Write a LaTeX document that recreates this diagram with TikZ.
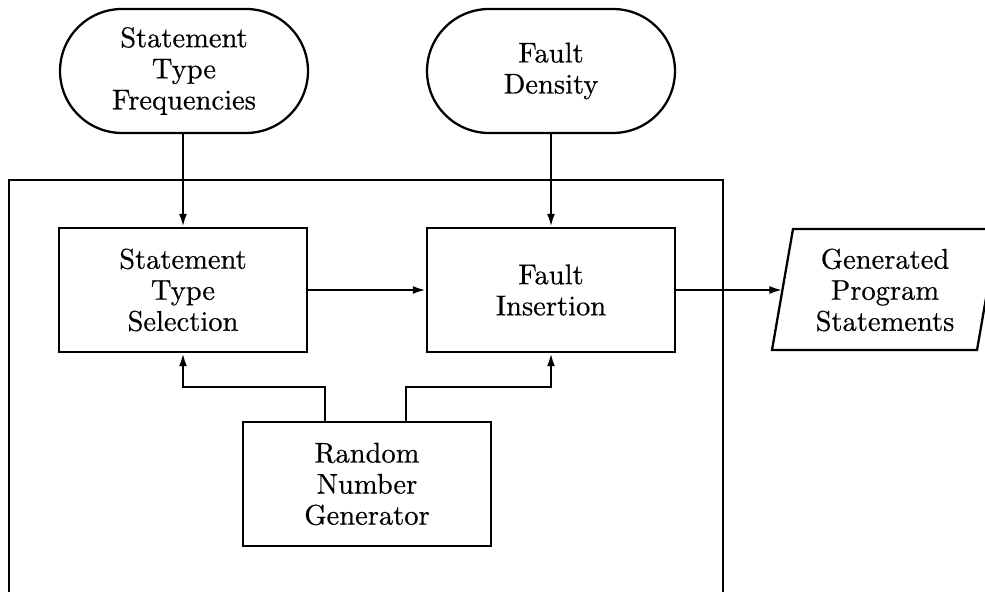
\documentclass[tikz,border=0pt]{standalone}
\usepackage{fontspec}
\newfontfamily\scanfont{Latin Modern Roman}[FakeBold=0.5]
\usetikzlibrary{shapes.misc,arrows.meta}
\begin{document}
\begin{tikzpicture}[x=0.35088pt,y=-0.35088pt,
  lw/.style={line width=0.8pt},
  txt/.style={font=\scanfont\fontsize{10}{10.9}\selectfont, align=center},
  procbox/.style={lw, draw, rectangle, txt, minimum width=87pt, minimum height=43.5pt, inner sep=0pt},
  termbox/.style={lw, draw, rounded rectangle, txt, minimum width=87pt, minimum height=43.5pt, inner sep=0pt},
  arr/.style={lw, -{Latex[length=4.6pt,width=2.8pt]}}]
\useasboundingbox (0,0) rectangle (985,592);
% outer frame (open at the bottom edge of the picture)
\draw[lw] (9,592) -- (9,180) -- (723,180) -- (723,592);
% nodes
\node[termbox] (stf) at (184,71) {Statement\\Type\\Frequencies};
\node[termbox] (fd) at (551,71) {Fault\\Density};
\node[procbox] (sel) at (183,290) {Statement\\Type\\Selection};
\node[procbox] (fi) at (551,290) {Fault\\Insertion};
\node[procbox] (rng) at (367,484) {Random\\Number\\Generator};
% output parallelogram
\draw[lw] (772,350) -- (793,229) -- (998,229) -- (977,350) -- cycle;
\node[txt, inner sep=0pt] (gps) at (885,290) {Generated\\Program\\Statements};
\coordinate (gpsin) at (782.5,290);
% connectors
\draw[arr] (stf.south -| sel.north) -- (sel.north);
\draw[arr] (fd.south -| fi.north) -- (fi.north);
\draw[arr] (sel.east) -- (fi.west);
\draw[arr] (fi.east) -- (gpsin);
\coordinate (ja) at (325,387);
\coordinate (jb) at (406,387);
\draw[arr] (ja |- rng.north) -- (ja) -| (sel.south);
\draw[arr] (jb |- rng.north) -- (jb) -| (fi.south);
\end{tikzpicture}
\end{document}
